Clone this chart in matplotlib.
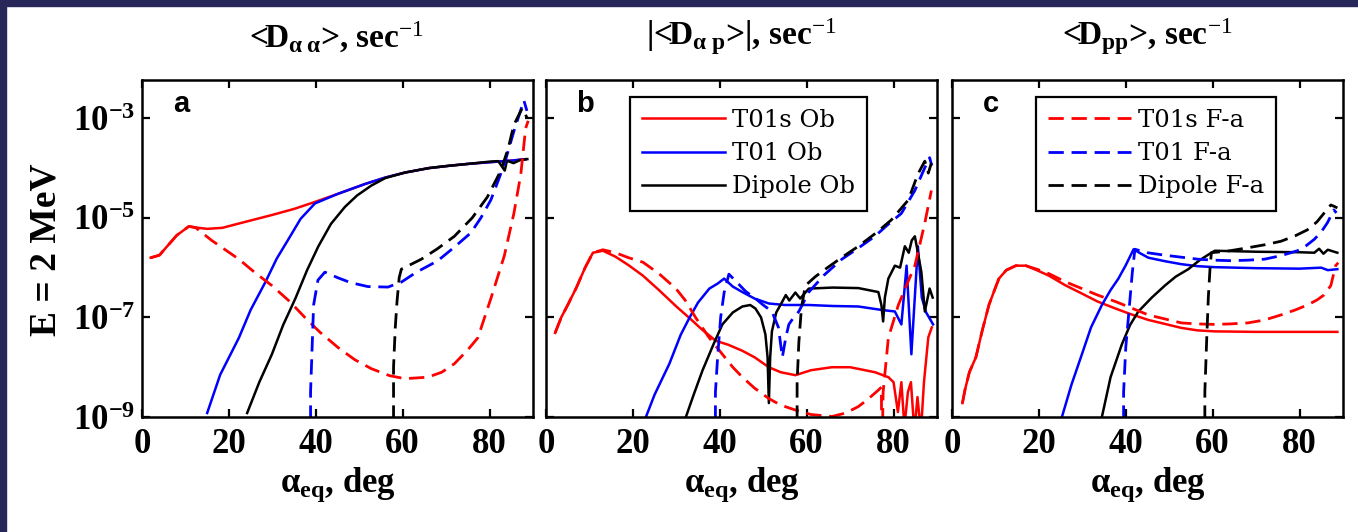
import numpy as np
import matplotlib
matplotlib.use('Agg')
import matplotlib.pyplot as plt
from matplotlib.patches import Rectangle

# 글꼴 설정
plt.rcParams['font.family'] = ['Liberation Serif', 'DejaVu Serif']
plt.rcParams['mathtext.fontset'] = 'custom'
plt.rcParams['mathtext.rm'] = 'Liberation Serif'
plt.rcParams['mathtext.it'] = 'Liberation Serif:italic'
plt.rcParams['mathtext.bf'] = 'Liberation Serif:bold'

### 데이터 (x: alpha_eq [deg], y: log10 값)

# panel a  <D_aa>
a_red_ob_x = [2, 4, 6, 8, 10.8, 13, 15, 18.5, 22, 26, 30, 35, 39.8, 45, 51.3, 56, 60.5, 66, 71, 75.7, 81.8, 85, 88.3]
a_red_ob_y = [-5.80, -5.75, -5.55, -5.35, -5.17, -5.20, -5.22, -5.20, -5.12, -5.03, -4.94, -4.82, -4.68, -4.52, -4.32,
              -4.19, -4.09, -4.00, -3.95, -3.91, -3.87, -3.85, -3.82]
a_red_fa_x = [2, 4, 6, 8, 10.8, 12.4, 16, 22.3, 26, 29.9, 34, 37.6, 41, 45.2, 49, 52.8, 57, 60.5, 65.8, 69, 71.9, 75,
              77.3, 80.3, 83.4, 85.6, 87.2, 88.3, 88.9]
a_red_fa_y = [-5.80, -5.75, -5.55, -5.35, -5.17, -5.20, -5.45, -5.83, -6.10, -6.36, -6.68, -7.01, -7.30, -7.61, -7.85,
              -8.03, -8.17, -8.23, -8.20, -8.10, -7.93, -7.65, -7.41, -6.62, -5.76, -4.91, -4.12, -3.20, -3.05]
a_blue_ob_x = [15, 18, 22.3, 25, 28.4, 31, 33.7, 36.5, 39.8, 45, 51.3, 56, 60.5, 66, 71, 75.7, 81.8, 85, 88.3]
a_blue_ob_y = [-8.92, -8.15, -7.41, -6.85, -6.29, -5.82, -5.43, -5.02, -4.71, -4.52, -4.32, -4.19, -4.09, -4.00, -3.95,
               -3.91, -3.87, -3.85, -3.82]
a_blue_fa_x = [38.8, 38.8, 39.2, 39.5, 40.5, 42.1, 45, 48, 52, 56.6, 59.7, 63, 68.1, 72, 75.7, 78, 80.3, 82, 83.4,
               85.6, 87.9, 88.6]
a_blue_fa_y = [-10, -8.5, -7.5, -6.75, -6.25, -6.09, -6.20, -6.30, -6.38, -6.39, -6.29, -6.10, -5.86, -5.58, -5.30,
               -5.00, -4.64, -4.25, -3.92, -3.26, -2.64, -2.85]
a_black_ob_x = [24.2, 27, 29.9, 32.5, 35.3, 38, 40.6, 43.5, 46.7, 49.5, 52.8, 56, 60.5, 66, 71, 75.7, 80, 82, 83.5, 84,
                85.5, 87, 88.7]
a_black_ob_y = [-8.92, -8.30, -7.74, -7.15, -6.62, -6.05, -5.57, -5.12, -4.78, -4.55, -4.35, -4.20, -4.09, -4.00, -3.95,
                -3.91, -3.87, -3.86, -4.05, -3.85, -3.90, -3.84, -3.82]
a_black_fa_x = [57.9, 57.9, 58.3, 58.7, 59.2, 59.7, 62, 64.3, 68, 71.9, 76, 79.5, 82.6, 84.3, 85.6, 87.5, 88.7]
a_black_fa_y = [-10, -8.0, -7.2, -6.68, -6.2, -6.03, -5.93, -5.83, -5.62, -5.37, -5.00, -4.58, -4.05, -3.60, -3.13,
                -2.80, -3.0]

# panel b  |<D_ap>|
b_red_ob_x = [2.1, 3.5, 5, 7, 9, 10.8, 13.1, 16, 19, 22.3, 26, 30, 33, 36, 39.1, 42, 45.2, 48, 51.3, 54, 57.4, 61,
              65.8, 70, 75.7, 78.8, 80, 81, 81.8, 82.5, 83.3, 84, 84.8, 85.5, 86.3, 87, 88, 88.8]
b_red_ob_y = [-7.31, -7.0, -6.75, -6.40, -6.00, -5.70, -5.66, -5.78, -5.95, -6.16, -6.45, -6.78, -7.01, -7.25, -7.47,
              -7.55, -7.67, -7.80, -8.00, -8.10, -8.16, -8.06, -8.00, -8.00, -8.10, -8.20, -8.3, -8.9, -8.3, -9.2,
              -8.5, -8.3, -9.3, -8.6, -9.3, -8.3, -7.4, -7.2]
b_red_fa_x = [2.1, 3.5, 5, 7, 9, 10.8, 13.1, 16, 19, 22.3, 26, 29.9, 32, 34.5, 37.5, 40.6, 43, 45.2, 48, 51.3, 54,
              57.4, 61, 65.8, 69, 71.9, 74, 76.5, 77.2, 77.3, 77.6, 78.8, 81.1, 83, 84.9, 87.2, 88.7]
b_red_fa_y = [-7.31, -7.0, -6.75, -6.40, -6.00, -5.70, -5.64, -5.70, -5.80, -5.89, -6.12, -6.42, -6.65, -7.01, -7.40,
              -7.74, -8.00, -8.20, -8.42, -8.63, -8.76, -8.86, -8.95, -8.99, -8.92, -8.79, -8.65, -8.46, -8.40, -10,
              -8.5, -7.41, -6.75, -6.35, -5.96, -5.10, -4.45]
b_blue_ob_x = [23, 25, 28.4, 31, 33, 35, 37.6, 39.5, 41, 43, 45.2, 48, 51.3, 55, 60.5, 66, 71.9, 77.3, 80.3, 81.8, 83,
               84.1, 85.6, 86.5, 87.5, 89.1]
b_blue_ob_y = [-9.0, -8.55, -7.93, -7.35, -7.01, -6.70, -6.42, -6.32, -6.22, -6.38, -6.49, -6.62, -6.72, -6.75, -6.75,
               -6.77, -6.78, -6.85, -6.88, -7.14, -5.96, -7.74, -5.57, -6.6, -6.9, -7.14]
b_blue_fa_x = [39, 39, 39.5, 40.2, 41, 42.1, 44, 46, 48.2, 50, 52, 53.5, 54.4, 55.2, 55.9, 57, 58.2, 60.5, 64, 68.1,
               72, 75.7, 78.5, 81.8, 84.9, 87.2, 88.3, 88.8]
b_blue_fa_y = [-10, -8.5, -7.8, -7.0, -6.5, -6.13, -6.30, -6.48, -6.62, -6.75, -6.88, -7.2, -7.8, -7.4, -7.14, -7.0,
               -6.88, -6.49, -6.15, -5.83, -5.60, -5.37, -5.15, -4.91, -4.45, -3.99, -3.79, -3.95]
b_black_ob_x = [32.2, 34, 36, 38.5, 40.6, 43, 45.2, 47, 48.2, 49.5, 50.5, 51.0, 51.3, 51.6, 52, 53, 54.4, 55.2, 56,
                57.4, 58.5, 60.5, 66, 71.9, 76.5, 77.2, 77.6, 78, 78.8, 80.3, 81.5, 82.6, 83.5, 84.2, 84.9, 85.5,
                86.4, 87.2, 88.3, 89]
b_black_ob_y = [-9.0, -8.55, -8.07, -7.55, -7.14, -6.90, -6.78, -6.75, -6.82, -7.00, -7.34, -7.80, -8.72, -7.80, -7.28,
                -6.90, -6.68, -6.55, -6.66, -6.50, -6.62, -6.42, -6.40, -6.41, -6.49, -6.75, -7.08, -6.60, -6.22,
                -5.96, -6.0, -5.57, -5.70, -5.45, -5.37, -5.65, -6.09, -6.88, -6.42, -6.6]
b_black_fa_x = [57.8, 57.8, 58.2, 58.8, 59.7, 62, 64.3, 68, 71.9, 76, 79.5, 83.4, 85.6, 87.2, 88, 88.7]
b_black_fa_y = [-10, -8.3, -7.5, -6.8, -6.36, -6.18, -6.03, -5.80, -5.57, -5.30, -5.04, -4.64, -4.12, -3.86, -4.1, -3.9]

# panel c  <D_pp>
c_red_ob_x = [2.4, 3, 4, 5.5, 7, 8.5, 10, 10.8, 12.5, 14.7, 17, 19.5, 22.3, 26, 29.9, 33.5, 37.6, 41, 45.2, 49, 52.8,
              56.5, 60.5, 70, 80, 88.7]
c_red_ob_y = [-8.72, -8.45, -8.10, -7.80, -7.25, -6.75, -6.40, -6.22, -6.05, -5.96, -5.96, -6.05, -6.16, -6.35, -6.52,
              -6.68, -6.82, -6.93, -7.05, -7.13, -7.21, -7.26, -7.28, -7.29, -7.29, -7.29]
c_red_fa_x = [2.4, 3, 4, 5.5, 7, 8.5, 10, 10.8, 12.5, 14.7, 17, 19.5, 22.3, 26, 29.9, 33.5, 37.6, 41, 45.2, 49, 52.8,
              56.5, 60.5, 64, 68.1, 72, 75.7, 79, 81.8, 84, 85.6, 87.2, 88.3, 88.9]
c_red_fa_y = [-8.72, -8.45, -8.10, -7.80, -7.25, -6.75, -6.40, -6.22, -6.05, -5.96, -5.96, -6.03, -6.12, -6.28, -6.42,
              -6.55, -6.68, -6.80, -6.95, -7.03, -7.11, -7.13, -7.14, -7.13, -7.11, -7.05, -6.95, -6.85, -6.75, -6.65,
              -6.55, -6.36, -5.96, -5.9]
c_blue_ob_x = [25.3, 27.5, 29.9, 32, 34.5, 36.5, 38.3, 40, 41.8, 43.5, 45.2, 49, 52.8, 56.5, 60.5, 70, 80, 85, 86.5, 88.7]
c_blue_ob_y = [-9.0, -8.35, -7.74, -7.20, -6.75, -6.45, -6.22, -5.95, -5.63, -5.72, -5.80, -5.87, -5.93, -5.97, -5.99,
               -6.01, -6.02, -6.00, -6.05, -6.03]
c_blue_fa_x = [39.5, 39.5, 40, 40.8, 41.5, 42.1, 45, 49, 52.8, 56.6, 60.5, 64.3, 68, 71.9, 75.7, 79.5, 81.5, 83.4, 85,
               86.4, 87.9, 88.5]
c_blue_fa_y = [-10, -8.5, -7.6, -6.8, -6.1, -5.63, -5.70, -5.75, -5.79, -5.83, -5.85, -5.86, -5.85, -5.83, -5.76, -5.66,
               -5.56, -5.43, -5.28, -5.10, -4.84, -4.9]
c_black_ob_x = [34.5, 36.5, 39.1, 41, 42.9, 46, 49, 51.5, 54.4, 57, 59.7, 60.5, 70, 80, 83.4, 84.5, 85.5, 86.5, 88.7]
c_black_ob_y = [-9.0, -8.2, -7.54, -7.15, -6.88, -6.60, -6.36, -6.18, -6.03, -5.85, -5.70, -5.66, -5.68, -5.69, -5.70,
                -5.62, -5.72, -5.64, -5.70]
c_black_fa_x = [58.2, 58.2, 58.6, 59.0, 59.4, 59.7, 64, 68.1, 72, 75.7, 79, 81.8, 84, 85.6, 87.2, 88, 88.7]
c_black_fa_y = [-10, -8.5, -7.5, -6.6, -6.0, -5.70, -5.66, -5.60, -5.54, -5.47, -5.36, -5.24, -5.08, -4.91, -4.74,
                -4.77, -4.8]

panels = [
    [(a_red_ob_x, a_red_ob_y), (a_blue_ob_x, a_blue_ob_y), (a_black_ob_x, a_black_ob_y),
     (a_red_fa_x, a_red_fa_y), (a_blue_fa_x, a_blue_fa_y), (a_black_fa_x, a_black_fa_y)],
    [(b_red_ob_x, b_red_ob_y), (b_blue_ob_x, b_blue_ob_y), (b_black_ob_x, b_black_ob_y),
     (b_red_fa_x, b_red_fa_y), (b_blue_fa_x, b_blue_fa_y), (b_black_fa_x, b_black_fa_y)],
    [(c_red_ob_x, c_red_ob_y), (c_blue_ob_x, c_blue_ob_y), (c_black_ob_x, c_black_ob_y),
     (c_red_fa_x, c_red_fa_y), (c_blue_fa_x, c_blue_fa_y), (c_black_fa_x, c_black_fa_y)],
]

ob_names = ['T01s Ob', 'T01 Ob', 'Dipole Ob']
fa_names = ['T01s F-a', 'T01 F-a', 'Dipole F-a']
colors = ['#ff0000', '#0000ff', '#000000']
titles = ['<D$_{\\mathbf{\\alpha\\;\\alpha}}$>, sec$^{-1}$',
          '|<D$_{\\mathbf{\\alpha\\ p}}$>|, sec$^{-1}$',
          '<D$_{\\mathbf{pp}}$>, sec$^{-1}$']
panel_tags = ['a', 'b', 'c']
x_ticks = [0, 20, 40, 60, 80]
y_ticks = [1e-9, 1e-7, 1e-5, 1e-3]
y_tick_labels = ['$\\mathbf{10^{-9}}$', '$\\mathbf{10^{-7}}$', '$\\mathbf{10^{-5}}$', '$\\mathbf{10^{-3}}$']

### 그림

W, H = 1358, 532
fig = plt.figure(figsize=(W / 100, H / 100), dpi=100)
fig.patch.set_facecolor('white')
# 테두리 (왼쪽, 위)
fig.patches.append(Rectangle((0, 1 - 6 / H), 1, 6 / H, transform=fig.transFigure, color='#27275a', zorder=10))
fig.patches.append(Rectangle((0, 0), 6 / W, 1, transform=fig.transFigure, color='#27275a', zorder=10))

lefts = [142, 546, 952]
for i, left in enumerate(lefts):
    ax = fig.add_axes([left / W, (H - 417) / H, 391 / W, 337 / H])
    lines = panels[i]
    for k in range(3):
        x, y = lines[k]
        ax.plot(x, 10 ** np.array(y), color=colors[k], lw=1.8, label=ob_names[k])
    for k in range(3):
        x, y = lines[k + 3]
        ax.plot(x, 10 ** np.array(y), color=colors[k], lw=2.0, dashes=(5.5, 2.8), label=fa_names[k])

    ax.set_yscale('log')
    ax.set_xlim(0, 90)
    ax.set_ylim(1e-9, 10 ** -2.23)
    ax.set_xticks(x_ticks)
    ax.set_xticklabels([str(t) for t in x_ticks], fontsize=25, fontweight='bold')
    ax.set_yticks(y_ticks)
    ax.minorticks_off()
    if i == 0:
        ax.set_yticklabels(y_tick_labels, fontsize=25)
    else:
        ax.set_yticklabels([])
    ax.tick_params(direction='in', length=6, width=1.6, top=True, right=True)
    ax.tick_params(axis='x', pad=8)
    ax.tick_params(axis='y', pad=5)
    for s in ax.spines.values():
        s.set_linewidth(1.8)

    ax.text(0.10, 0.93, panel_tags[i], transform=ax.transAxes, fontsize=21, fontweight='bold',
            family='Liberation Sans', ha='center', va='center')
    ax.set_xlabel('$\\mathbf{\\alpha}_{\\mathbf{eq}}$, deg', fontsize=25, fontweight='bold', labelpad=3)
    fig.text((left + 195) / W, (H - 37) / H, titles[i], fontsize=24, fontweight='bold', ha='center', va='center')

    if i > 0:
        hs, ls = ax.get_legend_handles_labels()
        if i == 1:
            hs, ls = hs[:3], ls[:3]
        else:
            hs, ls = hs[3:], ls[3:]
        leg = ax.legend(hs, ls, loc='upper left', bbox_to_anchor=(0.215, 0.95), fancybox=False,
                        edgecolor='black', framealpha=1, prop={'family': 'DejaVu Serif', 'size': 17.5},
                        handlelength=3.4, handletextpad=0.3, labelspacing=0.42, borderpad=0.5, borderaxespad=0)
        leg.get_frame().set_linewidth(1.6)

fig.text(46 / W, (H - 250) / H, 'E = 2 MeV', rotation=90, fontsize=27, fontweight='bold', ha='center', va='center')

plt.savefig('out.png', dpi=100)
